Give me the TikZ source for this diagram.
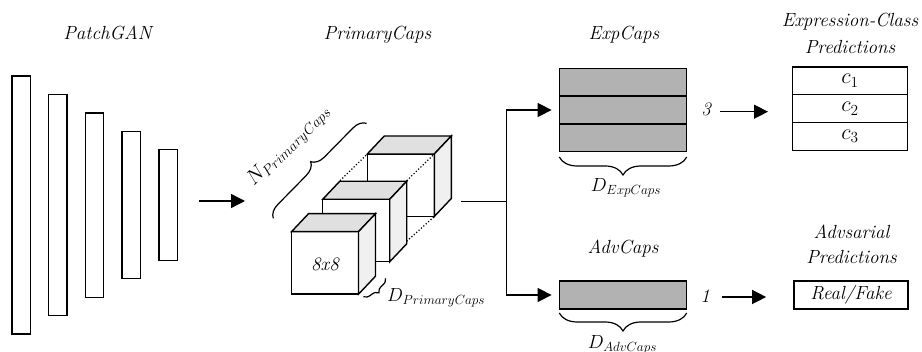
\RequirePackage{fix-cm}
\documentclass[tikz,border=0pt]{standalone}
\usepackage{fontspec}
\usetikzlibrary{arrows.meta,decorations.pathreplacing,calc}
\definecolor{capgray}{gray}{0.70}
\definecolor{cubetop}{gray}{0.88}
\definecolor{cubeside}{gray}{0.94}
\newcommand\osn[1]{\oldstylenums{#1}}
\newcommand\mycube[2]{%
  \filldraw[cubeline, fill=white] (#1,#2) rectangle ++(67,62.5);
  \filldraw[cubeline, fill=cubetop] (#1,#2) -- ++(17,-18) -- ++(67,0) -- ++(-17,18) -- cycle;
  \filldraw[cubeline, fill=cubeside] ($(#1,#2)+(67,0)$) -- ++(17,-18) -- ++(0,62.5) -- ++(-17,18) -- cycle;
}
\tikzset{
  lbl/.style={font=\fontsize{19}{22}\selectfont\itshape, inner sep=0pt, anchor=base},
  mth/.style={font=\fontsize{19}{22}\selectfont, inner sep=0pt},
  bar/.style={draw, line width=1.4pt, minimum width=18.4pt, inner sep=0pt},
  cubeline/.style={line width=1.4pt, line join=miter},
  arr/.style={line width=1.4pt, -{Triangle[length=14pt,width=14pt]}},
  plain/.style={line width=1.4pt},
  capbox/.style={draw, line width=1.4pt, fill=capgray, minimum width=127.4pt, minimum height=27.8pt, inner sep=0pt},
  predbox/.style={draw, line width=1.4pt, minimum width=114.6pt, minimum height=27.8pt, inner sep=0pt,
     font=\fontsize{22}{24}\selectfont},
  brc/.style={decorate, decoration={brace, amplitude=#1}, line width=1.2pt},
  brc/.default=14pt,
  dots/.style={line width=1.2pt, dotted},
}
\begin{document}
\begin{tikzpicture}[x=1pt,y=-1pt]
\useasboundingbox (0,0) rectangle (922,352);

% titles
\node[lbl] (tpatch) at (107.5,40) {PatchGAN};
\node[lbl] (tprim) at (377.5,40) {PrimaryCaps};
\node[lbl] (texp) at (624,40) {ExpCaps};
\node[lbl] (tecp1) at (850,26.7) {Expression-Class};
\node[lbl] (tecp2) at (850,53.3) {Predictions};
\node[lbl] (tadv) at (623,253.3) {AdvCaps};
\node[lbl] (tadp1) at (851.5,238.3) {Advsarial};
\node[lbl] (tadp2) at (851.5,263.3) {Predictions};

% PatchGAN bars
\node[bar, minimum height=258pt] (b1) at (21,205) {};
\node[bar, minimum height=221pt] (b2) at (57.9,205.2) {};
\node[bar, minimum height=184.3pt] (b3) at (94.5,205.2) {};
\node[bar, minimum height=147.4pt] (b4) at (131.2,205) {};
\node[bar, minimum height=110.6pt] (b5) at (168,205) {};

\coordinate (pin) at (199,201);
\coordinate (pout) at (245,201);
\draw[arr] (pin) -- (pout);

% cubes
\mycube{367.3}{154}
\draw[dots] (340,180.7) -- (367.3,154);
\draw[dots] (406.7,180.7) -- (434.3,154);
\draw[dots] (406.7,241.3) -- (434.3,216.5);
\mycube{322.7}{199.3}
\mycube{291.5}{231.7}
\node[lbl, anchor=center] (eight) at (325,264) {\osn{8}x\osn{8}};

% braces of cubes
\coordinate (na) at (273.3,218.3);
\coordinate (nb) at (366.7,123.3);
\draw[brc=13pt] (na) -- (nb);
\node[mth, font=\fontsize{21}{24}\selectfont, rotate=45] (nlab) at (289,146) {$N_{PrimaryCaps}$};
\coordinate (da) at (385.5,278.3);
\coordinate (db) at (363.3,296.7);
\draw[brc=7pt] (da) -- (db);
\node[mth, anchor=base west] (dlab) at (387,302) {$D_{PrimaryCaps}$};

% split
\coordinate (cubeout) at (461,201.7);
\coordinate (split) at (506.7,201.7);
\draw[plain] (cubeout) -- (split);

% ExpCaps
\node[capbox] (e1) at (623,82.2) {};
\node[capbox] (e2) at (623,110) {};
\node[capbox] (e3) at (623,137.8) {};
\draw[arr, shorten >=7pt] (split) |- (e2.west);
\coordinate (eba) at (686.7,157);
\coordinate (ebb) at (559.3,157);
\draw[brc=18pt] (eba) -- (ebb);
\node[mth, anchor=base] (elab) at (626,192) {$D_{ExpCaps}$};

% AdvCaps
\node[capbox, minimum height=28pt] (adv) at (623,295) {};
\draw[arr, shorten >=7pt] (split) |- (adv.west);
\coordinate (aba) at (686.7,313);
\coordinate (abb) at (559.3,313);
\draw[brc=18pt] (aba) -- (abb);
\node[mth, anchor=base] (alab) at (622.5,349) {$D_{AdvCaps}$};

% outputs
\node[lbl, anchor=center] (three) at (706,109) {\osn{3}};
\node[predbox] (p1) at (850,80.8) {$c_1$};
\node[predbox] (p2) at (850,108.7) {$c_2$};
\node[predbox] (p3) at (850,136.5) {$c_3$};
\draw[arr] ([xshift=9pt]three.east |- 0,111.7) -- ([xshift=-24pt]p2.west |- 0,111.7);

\node[lbl, anchor=center] (one) at (705,296) {\osn{1}};
\node[draw, line width=1.4pt, minimum width=114.3pt, minimum height=28pt, inner sep=0pt,
   font=\fontsize{19}{22}\selectfont\itshape] (rf) at (851,295) {Real/Fake};
\draw[arr] ([xshift=12pt]one.east |- 0,297) -- ([xshift=-27pt]rf.west |- 0,297);
\end{tikzpicture}
\end{document}
